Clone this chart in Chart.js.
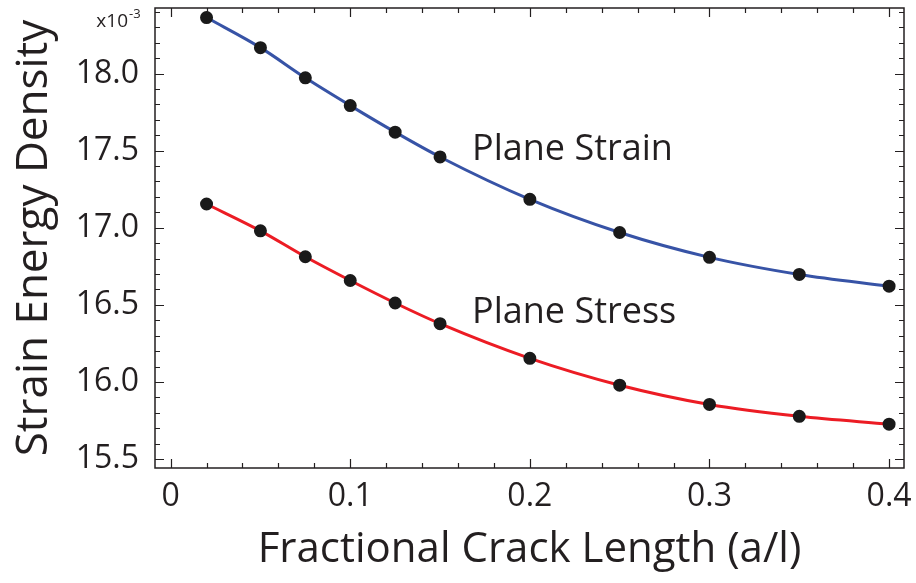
<!DOCTYPE html>
<html><head><meta charset="utf-8">
<script src="https://cdn.jsdelivr.net/npm/chart.js@4"></script>
<style>html,body{margin:0;padding:0;background:#fff}#wrap{width:916px;height:583px}</style>
</head><body><div id="wrap"><canvas id="c"></canvas></div>
<script>
const crackLength = [0.02, 0.05, 0.075, 0.1, 0.125, 0.15, 0.2, 0.25, 0.3, 0.35, 0.4];
const planeStrain = [18.363, 18.168, 17.972, 17.792, 17.620, 17.459, 17.184, 16.969, 16.808, 16.697, 16.621];
const planeStress = [17.154, 16.980, 16.812, 16.658, 16.512, 16.378, 16.153, 15.979, 15.854, 15.777, 15.726];
const xTicks = [0, 0.1, 0.2, 0.3, 0.4];
const yTicks = [15.5, 16.0, 16.5, 17.0, 17.5, 18.0];

const FONT = "'Open Sans', sans-serif";
const toPts = ys => crackLength.map((x, i) => ({x, y: ys[i]}));

const frame = {
  id: 'frame',
  afterDraw(chart) {
    const {ctx, chartArea: a, scales: {x, y}} = chart;
    ctx.save();
    ctx.strokeStyle = '#231f20';
    ctx.lineWidth = 1.5;
    ctx.strokeRect(a.left, a.top, a.right - a.left, a.bottom - a.top);
    ctx.lineWidth = 1.2;
    ctx.beginPath();
    for (let v = 0; v <= 0.4001; v += 0.02) {
      const px = Math.round(x.getPixelForValue(v)) + 0.5;
      const major = Math.abs(v * 10 - Math.round(v * 10)) < 1e-6;
      const L = major ? 9 : 5;
      ctx.moveTo(px, a.bottom); ctx.lineTo(px, a.bottom - L);
      ctx.moveTo(px, a.top); ctx.lineTo(px, a.top + L);
    }
    for (let k = 155; k <= 184; k++) {
      const v = k / 10;
      const py = Math.round(y.getPixelForValue(v)) + 0.5;
      if (py < a.top || py > a.bottom) continue;
      const major = k % 5 === 0;
      const L = major ? 9 : 5;
      ctx.moveTo(a.left, py); ctx.lineTo(a.left + L, py);
      ctx.moveTo(a.right, py); ctx.lineTo(a.right - L, py);
    }
    ctx.stroke();
    // annotations
    ctx.fillStyle = '#231f20';
    ctx.font = "36px " + FONT;
    ctx.textBaseline = 'middle';
    ctx.textAlign = 'left';
    ctx.fillText('Plane Strain', 472, 150);
    ctx.fillText('Plane Stress', 472, 313);
    // exponent label
    ctx.font = "19px " + FONT;
    ctx.textAlign = 'right';
    ctx.fillText('x10', 128, 22);
    ctx.font = "13px " + FONT;
    ctx.textAlign = 'left';
    ctx.fillText('-3', 129, 14);
    ctx.restore();
  }
};

new Chart(document.getElementById('c'), {
  type: 'line',
  data: {
    datasets: [
      {label: 'Plane Strain', data: toPts(planeStrain), borderColor: '#3753a6', borderWidth: 3,
       pointBackgroundColor: '#1a1a1a', pointBorderColor: '#1a1a1a', pointRadius: 5, cubicInterpolationMode: 'monotone'},
      {label: 'Plane Stress', data: toPts(planeStress), borderColor: '#ec1c24', borderWidth: 3,
       pointBackgroundColor: '#1a1a1a', pointBorderColor: '#1a1a1a', pointRadius: 5, cubicInterpolationMode: 'monotone'}
    ]
  },
  options: {
    responsive: true, maintainAspectRatio: false, animation: false,
    layout: {padding: {top: 5, right: 12, left: 0, bottom: 0}},
    plugins: {legend: {display: false}, tooltip: {enabled: false}},
    scales: {
      x: {
        type: 'linear', min: -0.0087, max: 0.4083,
        afterBuildTicks: s => { s.ticks = xTicks.map(v => ({value: v})); },
        afterFit: s => { s.height = 115; s.paddingLeft = 0; s.paddingRight = 0; },
        grid: {display: false, drawTicks: false},
        border: {display: false},
        ticks: {color: '#231f20', font: {family: FONT, size: 32}, padding: 10,
                callback: v => v === 0 ? '0' : String(v)},
        title: {display: true, text: 'Fractional Crack Length (a/l)', color: '#231f20',
                font: {family: FONT, size: 42}, padding: {top: 0, bottom: 8}}
      },
      y: {
        type: 'linear', min: 15.442, max: 18.425,
        afterBuildTicks: s => { s.ticks = yTicks.map(v => ({value: v})); },
        afterFit: s => { s.width = 155; s.paddingTop = 0; s.paddingBottom = 0; },
        grid: {display: false, drawTicks: false},
        border: {display: false},
        ticks: {color: '#231f20', font: {family: FONT, size: 32}, padding: 16,
                callback: v => Number(v).toFixed(1)},
        title: {display: true, text: 'Strain Energy Density', color: '#231f20',
                font: {family: FONT, size: 44}, padding: {top: 8, bottom: 0}}
      }
    }
  },
  plugins: [frame]
});
</script></body></html>
